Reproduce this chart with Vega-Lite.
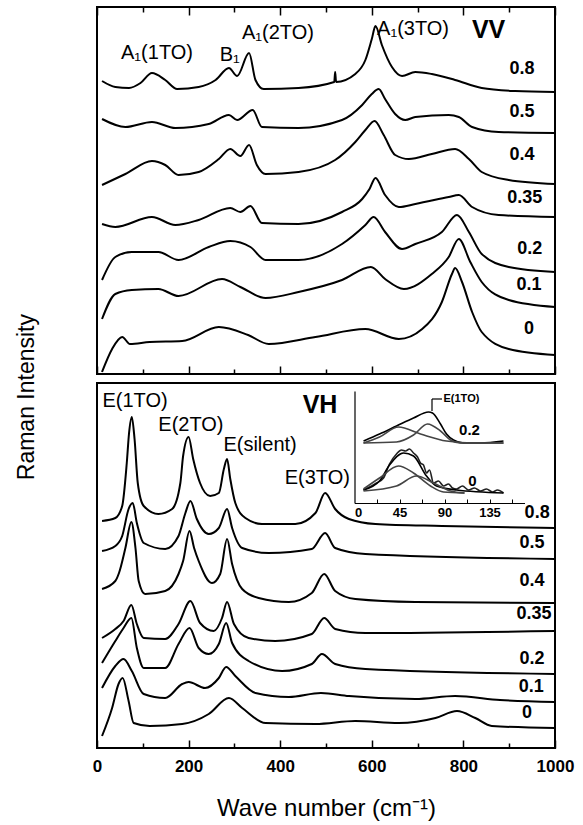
{
  "$schema": "https://vega.github.io/schema/vega-lite/v6.json",
  "padding": {"left": 16, "top": 5, "right": 30, "bottom": 5},
  "config": {
    "font": "Liberation Sans",
    "view": {"stroke": "black", "strokeWidth": 2},
    "axis": {"tickColor": "black", "labelColor": "black", "titleColor": "black", "grid": false, "domainColor": "black"}
  },
  "title": {"text": "Raman Intensity", "orient": "left", "anchor": "middle", "fontSize": 23, "fontWeight": "normal", "offset": 52, "color": "black", "dx": 16},
  "spacing": 5,
  "datasets": {
    "vv": [
      {"s":"0.8","x":11,"y":293},{"s":"0.8","x":40,"y":287},{"s":"0.8","x":70,"y":286},{"s":"0.8","x":95,"y":291},{"s":"0.8","x":120,"y":301},{"s":"0.8","x":149,"y":294},{"s":"0.8","x":175,"y":285},{"s":"0.8","x":222,"y":287},{"s":"0.8","x":259,"y":294},{"s":"0.8","x":288,"y":306},{"s":"0.8","x":306,"y":298},{"s":"0.8","x":332,"y":321},{"s":"0.8","x":346,"y":294},{"s":"0.8","x":364,"y":285},{"s":"0.8","x":440,"y":286},{"s":"0.8","x":518,"y":292},{"s":"0.8","x":520,"y":302},{"s":"0.8","x":522,"y":292},{"s":"0.8","x":564,"y":300},{"s":"0.8","x":586,"y":314},{"s":"0.8","x":600,"y":335},{"s":"0.8","x":608,"y":348},{"s":"0.8","x":622,"y":329},{"s":"0.8","x":644,"y":307},{"s":"0.8","x":666,"y":298},{"s":"0.8","x":695,"y":302},{"s":"0.8","x":731,"y":300},{"s":"0.8","x":782,"y":294},{"s":"0.8","x":840,"y":286},{"s":"0.8","x":913,"y":283},{"s":"0.8","x":1000,"y":282},
      {"s":"0.5","x":11,"y":255},{"s":"0.5","x":62,"y":247},{"s":"0.5","x":120,"y":252},{"s":"0.5","x":171,"y":246},{"s":"0.5","x":244,"y":250},{"s":"0.5","x":288,"y":259},{"s":"0.5","x":306,"y":254},{"s":"0.5","x":340,"y":264},{"s":"0.5","x":360,"y":247},{"s":"0.5","x":440,"y":246},{"s":"0.5","x":535,"y":254},{"s":"0.5","x":579,"y":269},{"s":"0.5","x":600,"y":280},{"s":"0.5","x":615,"y":285},{"s":"0.5","x":629,"y":275},{"s":"0.5","x":651,"y":260},{"s":"0.5","x":673,"y":254},{"s":"0.5","x":695,"y":257},{"s":"0.5","x":768,"y":259},{"s":"0.5","x":790,"y":257},{"s":"0.5","x":819,"y":247},{"s":"0.5","x":877,"y":242},{"s":"0.5","x":1000,"y":241},
      {"s":"0.4","x":11,"y":189},{"s":"0.4","x":62,"y":200},{"s":"0.4","x":120,"y":213},{"s":"0.4","x":149,"y":209},{"s":"0.4","x":178,"y":199},{"s":"0.4","x":222,"y":202},{"s":"0.4","x":266,"y":215},{"s":"0.4","x":291,"y":225},{"s":"0.4","x":313,"y":218},{"s":"0.4","x":332,"y":229},{"s":"0.4","x":349,"y":209},{"s":"0.4","x":368,"y":200},{"s":"0.4","x":440,"y":202},{"s":"0.4","x":520,"y":214},{"s":"0.4","x":564,"y":232},{"s":"0.4","x":586,"y":244},{"s":"0.4","x":606,"y":253},{"s":"0.4","x":626,"y":239},{"s":"0.4","x":651,"y":219},{"s":"0.4","x":681,"y":215},{"s":"0.4","x":731,"y":220},{"s":"0.4","x":782,"y":225},{"s":"0.4","x":812,"y":215},{"s":"0.4","x":840,"y":202},{"s":"0.4","x":899,"y":194},{"s":"0.4","x":1000,"y":190},
      {"s":"0.35","x":11,"y":150},{"s":"0.35","x":40,"y":147},{"s":"0.35","x":120,"y":157},{"s":"0.35","x":171,"y":149},{"s":"0.35","x":222,"y":154},{"s":"0.35","x":291,"y":166},{"s":"0.35","x":313,"y":162},{"s":"0.35","x":335,"y":168},{"s":"0.35","x":360,"y":151},{"s":"0.35","x":440,"y":150},{"s":"0.35","x":535,"y":162},{"s":"0.35","x":579,"y":175},{"s":"0.35","x":595,"y":185},{"s":"0.35","x":608,"y":196},{"s":"0.35","x":629,"y":179},{"s":"0.35","x":659,"y":167},{"s":"0.35","x":695,"y":170},{"s":"0.35","x":768,"y":177},{"s":"0.35","x":790,"y":179},{"s":"0.35","x":819,"y":167},{"s":"0.35","x":877,"y":159},{"s":"0.35","x":1000,"y":157},
      {"s":"0.2","x":11,"y":94},{"s":"0.2","x":40,"y":117},{"s":"0.2","x":76,"y":122},{"s":"0.2","x":134,"y":122},{"s":"0.2","x":178,"y":114},{"s":"0.2","x":244,"y":127},{"s":"0.2","x":291,"y":133},{"s":"0.2","x":335,"y":127},{"s":"0.2","x":368,"y":114},{"s":"0.2","x":440,"y":114},{"s":"0.2","x":535,"y":130},{"s":"0.2","x":586,"y":149},{"s":"0.2","x":604,"y":157},{"s":"0.2","x":629,"y":142},{"s":"0.2","x":666,"y":125},{"s":"0.2","x":695,"y":130},{"s":"0.2","x":753,"y":142},{"s":"0.2","x":786,"y":159},{"s":"0.2","x":812,"y":142},{"s":"0.2","x":840,"y":120},{"s":"0.2","x":899,"y":107},{"s":"0.2","x":1000,"y":102},
      {"s":"0.1","x":11,"y":55},{"s":"0.1","x":40,"y":80},{"s":"0.1","x":76,"y":84},{"s":"0.1","x":134,"y":85},{"s":"0.1","x":178,"y":78},{"s":"0.1","x":273,"y":95},{"s":"0.1","x":313,"y":87},{"s":"0.1","x":368,"y":76},{"s":"0.1","x":440,"y":82},{"s":"0.1","x":535,"y":94},{"s":"0.1","x":598,"y":107},{"s":"0.1","x":629,"y":95},{"s":"0.1","x":670,"y":85},{"s":"0.1","x":731,"y":100},{"s":"0.1","x":768,"y":117},{"s":"0.1","x":790,"y":135},{"s":"0.1","x":815,"y":112},{"s":"0.1","x":840,"y":92},{"s":"0.1","x":899,"y":74},{"s":"0.1","x":1000,"y":67},
      {"s":"0","x":11,"y":2},{"s":"0","x":33,"y":25},{"s":"0","x":55,"y":37},{"s":"0","x":72,"y":30},{"s":"0","x":115,"y":32},{"s":"0","x":186,"y":33},{"s":"0","x":266,"y":47},{"s":"0","x":330,"y":39},{"s":"0","x":375,"y":30},{"s":"0","x":477,"y":37},{"s":"0","x":586,"y":45},{"s":"0","x":659,"y":35},{"s":"0","x":710,"y":45},{"s":"0","x":753,"y":72},{"s":"0","x":775,"y":100},{"s":"0","x":782,"y":106},{"s":"0","x":797,"y":92},{"s":"0","x":819,"y":62},{"s":"0","x":840,"y":42},{"s":"0","x":899,"y":25},{"s":"0","x":1000,"y":19}
    ],
    "vvtext": [
      {"t":"0.8","x":928,"y":305,"k":"lab"},{"t":"0.5","x":928,"y":262,"k":"lab"},{"t":"0.4","x":928,"y":219,"k":"lab"},{"t":"0.35","x":934,"y":176,"k":"lab"},{"t":"0.2","x":945,"y":125,"k":"lab"},{"t":"0.1","x":943,"y":89,"k":"lab"},{"t":"0","x":943,"y":45,"k":"lab"},
      {"t":"A₁(1TO)","x":131,"y":321,"k":"ann"},{"t":"B₁","x":290,"y":319,"k":"ann"},{"t":"A₁(2TO)","x":395,"y":341,"k":"ann"},{"t":"A₁(3TO)","x":690,"y":345,"k":"ann"},
      {"t":"VV","x":855,"y":344,"k":"big"}
    ],
    "vh": [
      {"s":"0.8","x":11,"y":227},{"s":"0.8","x":40,"y":230},{"s":"0.8","x":55,"y":242},{"s":"0.8","x":65,"y":285},{"s":"0.8","x":70,"y":315},{"s":"0.8","x":76,"y":331},{"s":"0.8","x":82,"y":309},{"s":"0.8","x":89,"y":265},{"s":"0.8","x":102,"y":242},{"s":"0.8","x":134,"y":234},{"s":"0.8","x":164,"y":239},{"s":"0.8","x":182,"y":265},{"s":"0.8","x":188,"y":292},{"s":"0.8","x":200,"y":311},{"s":"0.8","x":210,"y":289},{"s":"0.8","x":225,"y":265},{"s":"0.8","x":247,"y":252},{"s":"0.8","x":266,"y":255},{"s":"0.8","x":277,"y":279},{"s":"0.8","x":284,"y":289},{"s":"0.8","x":291,"y":269},{"s":"0.8","x":302,"y":245},{"s":"0.8","x":324,"y":230},{"s":"0.8","x":360,"y":224},{"s":"0.8","x":433,"y":224},{"s":"0.8","x":477,"y":235},{"s":"0.8","x":498,"y":255},{"s":"0.8","x":520,"y":239},{"s":"0.8","x":550,"y":229},{"s":"0.8","x":608,"y":224},{"s":"0.8","x":753,"y":222},{"s":"0.8","x":1000,"y":220},
      {"s":"0.5","x":11,"y":197},{"s":"0.5","x":40,"y":202},{"s":"0.5","x":55,"y":212},{"s":"0.5","x":69,"y":239},{"s":"0.5","x":78,"y":245},{"s":"0.5","x":87,"y":225},{"s":"0.5","x":102,"y":205},{"s":"0.5","x":149,"y":199},{"s":"0.5","x":178,"y":212},{"s":"0.5","x":193,"y":235},{"s":"0.5","x":204,"y":247},{"s":"0.5","x":218,"y":229},{"s":"0.5","x":244,"y":214},{"s":"0.5","x":266,"y":220},{"s":"0.5","x":284,"y":239},{"s":"0.5","x":295,"y":220},{"s":"0.5","x":317,"y":200},{"s":"0.5","x":375,"y":195},{"s":"0.5","x":469,"y":199},{"s":"0.5","x":498,"y":215},{"s":"0.5","x":520,"y":200},{"s":"0.5","x":586,"y":194},{"s":"0.5","x":1000,"y":189},
      {"s":"0.4","x":11,"y":159},{"s":"0.4","x":40,"y":167},{"s":"0.4","x":48,"y":175},{"s":"0.4","x":62,"y":200},{"s":"0.4","x":75,"y":226},{"s":"0.4","x":84,"y":200},{"s":"0.4","x":91,"y":167},{"s":"0.4","x":105,"y":154},{"s":"0.4","x":149,"y":157},{"s":"0.4","x":178,"y":174},{"s":"0.4","x":188,"y":187},{"s":"0.4","x":202,"y":217},{"s":"0.4","x":212,"y":200},{"s":"0.4","x":222,"y":187},{"s":"0.4","x":251,"y":165},{"s":"0.4","x":269,"y":174},{"s":"0.4","x":284,"y":209},{"s":"0.4","x":295,"y":184},{"s":"0.4","x":317,"y":159},{"s":"0.4","x":353,"y":150},{"s":"0.4","x":419,"y":146},{"s":"0.4","x":469,"y":155},{"s":"0.4","x":496,"y":174},{"s":"0.4","x":520,"y":157},{"s":"0.4","x":564,"y":149},{"s":"0.4","x":695,"y":146},{"s":"0.4","x":1000,"y":145},
      {"s":"0.35","x":11,"y":110},{"s":"0.35","x":40,"y":119},{"s":"0.35","x":58,"y":127},{"s":"0.35","x":75,"y":143},{"s":"0.35","x":87,"y":124},{"s":"0.35","x":102,"y":110},{"s":"0.35","x":149,"y":109},{"s":"0.35","x":178,"y":124},{"s":"0.35","x":204,"y":147},{"s":"0.35","x":225,"y":125},{"s":"0.35","x":255,"y":117},{"s":"0.35","x":273,"y":130},{"s":"0.35","x":284,"y":146},{"s":"0.35","x":299,"y":124},{"s":"0.35","x":331,"y":110},{"s":"0.35","x":389,"y":107},{"s":"0.35","x":469,"y":114},{"s":"0.35","x":496,"y":130},{"s":"0.35","x":520,"y":119},{"s":"0.35","x":586,"y":115},{"s":"0.35","x":1000,"y":117},
      {"s":"0.2","x":11,"y":85},{"s":"0.2","x":40,"y":107},{"s":"0.2","x":58,"y":120},{"s":"0.2","x":75,"y":130},{"s":"0.2","x":87,"y":100},{"s":"0.2","x":102,"y":80},{"s":"0.2","x":149,"y":80},{"s":"0.2","x":178,"y":104},{"s":"0.2","x":202,"y":120},{"s":"0.2","x":222,"y":100},{"s":"0.2","x":244,"y":94},{"s":"0.2","x":266,"y":104},{"s":"0.2","x":282,"y":125},{"s":"0.2","x":295,"y":105},{"s":"0.2","x":331,"y":87},{"s":"0.2","x":404,"y":77},{"s":"0.2","x":469,"y":84},{"s":"0.2","x":491,"y":94},{"s":"0.2","x":520,"y":84},{"s":"0.2","x":586,"y":79},{"s":"0.2","x":1000,"y":74},
      {"s":"0.1","x":11,"y":60},{"s":"0.1","x":40,"y":82},{"s":"0.1","x":58,"y":89},{"s":"0.1","x":76,"y":77},{"s":"0.1","x":102,"y":54},{"s":"0.1","x":149,"y":50},{"s":"0.1","x":186,"y":64},{"s":"0.1","x":200,"y":66},{"s":"0.1","x":236,"y":60},{"s":"0.1","x":266,"y":70},{"s":"0.1","x":282,"y":81},{"s":"0.1","x":302,"y":72},{"s":"0.1","x":346,"y":55},{"s":"0.1","x":419,"y":51},{"s":"0.1","x":489,"y":55},{"s":"0.1","x":550,"y":52},{"s":"0.1","x":695,"y":49},{"s":"0.1","x":782,"y":52},{"s":"0.1","x":880,"y":48},{"s":"0.1","x":1000,"y":46},
      {"s":"0","x":11,"y":12},{"s":"0","x":33,"y":40},{"s":"0","x":47,"y":64},{"s":"0","x":56,"y":70},{"s":"0","x":69,"y":47},{"s":"0","x":80,"y":25},{"s":"0","x":115,"y":22},{"s":"0","x":186,"y":24},{"s":"0","x":244,"y":34},{"s":"0","x":288,"y":50},{"s":"0","x":317,"y":40},{"s":"0","x":368,"y":25},{"s":"0","x":477,"y":24},{"s":"0","x":564,"y":27},{"s":"0","x":659,"y":25},{"s":"0","x":739,"y":30},{"s":"0","x":786,"y":37},{"s":"0","x":826,"y":30},{"s":"0","x":862,"y":22},{"s":"0","x":1000,"y":20}
    ],
    "vhtext": [
      {"t":"0.8","x":961,"y":235,"k":"lab"},{"t":"0.5","x":950,"y":205,"k":"lab"},{"t":"0.4","x":950,"y":167,"k":"lab"},{"t":"0.35","x":954,"y":134,"k":"lab"},{"t":"0.2","x":950,"y":89,"k":"lab"},{"t":"0.1","x":948,"y":61,"k":"lab"},{"t":"0","x":939,"y":35,"k":"lab"},
      {"t":"E(1TO)","x":83,"y":347,"k":"ann"},{"t":"E(2TO)","x":205,"y":323,"k":"ann"},{"t":"E(silent)","x":356,"y":303,"k":"ann"},{"t":"E(3TO)","x":481,"y":270,"k":"ann"},
      {"t":"VH","x":487,"y":343,"k":"big"}
    ],
    "inset": [
      {"s":"d02","x":9,"y":62},{"s":"d02","x":25,"y":69},{"s":"d02","x":42,"y":77},{"s":"d02","x":59,"y":85},{"s":"d02","x":74,"y":91},{"s":"d02","x":78,"y":90},{"s":"d02","x":86,"y":79},{"s":"d02","x":92,"y":69},{"s":"d02","x":99,"y":63},{"s":"d02","x":109,"y":60},{"s":"d02","x":126,"y":60},{"s":"d02","x":149,"y":62},
      {"s":"c02a","x":9,"y":60},{"s":"c02a","x":25,"y":66},{"s":"c02a","x":44,"y":76},{"s":"c02a","x":66,"y":69},{"s":"c02a","x":92,"y":62},{"s":"c02a","x":119,"y":60},{"s":"c02a","x":149,"y":60},
      {"s":"c02b","x":9,"y":60},{"s":"c02b","x":42,"y":61},{"s":"c02b","x":59,"y":68},{"s":"c02b","x":73,"y":79},{"s":"c02b","x":86,"y":72},{"s":"c02b","x":96,"y":63},{"s":"c02b","x":106,"y":60},{"s":"c02b","x":149,"y":60},
      {"s":"d0","x":9,"y":13},{"s":"d0","x":22,"y":20},{"s":"d0","x":29,"y":25},{"s":"d0","x":35,"y":39},{"s":"d0","x":42,"y":49},{"s":"d0","x":47,"y":53},{"s":"d0","x":51,"y":52},{"s":"d0","x":55,"y":54},{"s":"d0","x":59,"y":50},{"s":"d0","x":63,"y":46},{"s":"d0","x":66,"y":40},{"s":"d0","x":69,"y":38},{"s":"d0","x":72,"y":30},{"s":"d0","x":75,"y":33},{"s":"d0","x":79,"y":20},{"s":"d0","x":84,"y":22},{"s":"d0","x":89,"y":17},{"s":"d0","x":94,"y":19},{"s":"d0","x":98,"y":15},{"s":"d0","x":102,"y":14},{"s":"d0","x":108,"y":17},{"s":"d0","x":114,"y":13},{"s":"d0","x":120,"y":15},{"s":"d0","x":126,"y":12},{"s":"d0","x":132,"y":14},{"s":"d0","x":138,"y":11},{"s":"d0","x":143,"y":13},{"s":"d0","x":149,"y":10},
      {"s":"f0","x":9,"y":13},{"s":"f0","x":25,"y":22},{"s":"f0","x":35,"y":38},{"s":"f0","x":49,"y":50},{"s":"f0","x":59,"y":47},{"s":"f0","x":72,"y":27},{"s":"f0","x":82,"y":17},{"s":"f0","x":102,"y":13},{"s":"f0","x":149,"y":10},
      {"s":"c0a","x":9,"y":14},{"s":"c0a","x":25,"y":25},{"s":"c0a","x":44,"y":37},{"s":"c0a","x":59,"y":30},{"s":"c0a","x":76,"y":17},{"s":"c0a","x":89,"y":11},{"s":"c0a","x":110,"y":10},
      {"s":"c0b","x":9,"y":12},{"s":"c0b","x":42,"y":17},{"s":"c0b","x":62,"y":27},{"s":"c0b","x":79,"y":20},{"s":"c0b","x":96,"y":12},{"s":"c0b","x":110,"y":10}
    ],
    "insettext": [
      {"t":"E(1TO)","x":89,"y":104,"k":"small"},
      {"t":"0.2","x":115,"y":73,"k":"lab"},
      {"t":"0","x":118,"y":22,"k":"lab"}
    ],
    "insetlead": [
      {"x":77.5,"y":92,"x2":77.5,"y2":104},
      {"x":77.5,"y":104,"x2":87.5,"y2":104}
    ]
  },
  "vconcat": [
    {
      "width": 458, "height": 367,
      "resolve": {"scale": {"x": "independent"}},
      "layer": [
        {
          "data": {"name": "vv"},
          "mark": {"type": "line", "color": "black", "strokeWidth": 2, "interpolate": "monotone"},
          "encoding": {
            "x": {"field": "x", "type": "quantitative", "scale": {"domain": [0, 1000], "nice": false},
                  "axis": {"orient": "bottom", "offset": -8, "values": [0,200,400,600,800,1000], "labels": false, "domain": false, "tickWidth": 1.5, "tickSize": 8, "title": null}},
            "y": {"field": "y", "type": "quantitative", "scale": {"domain": [0, 367], "nice": false}, "axis": null},
            "detail": {"field": "s"}
          }
        },
        {
          "data": {"name": "vvtext"},
          "transform": [{"filter": "datum.k === 'lab'"}],
          "mark": {"type": "text", "fontSize": 18, "fontWeight": "bold", "align": "center", "baseline": "middle", "color": "black"},
          "encoding": {
            "x": {"field": "x", "type": "quantitative", "scale": {"domain": [0, 1000], "nice": false},
                  "axis": {"orient": "bottom", "offset": -5, "values": [100,300,500,700,900], "labels": false, "domain": false, "tickWidth": 1.5, "tickSize": 5, "title": null}},
            "y": {"field": "y", "type": "quantitative", "scale": {"domain": [0, 367], "nice": false}, "axis": null},
            "text": {"field": "t"}
          }
        },
        {
          "data": {"name": "vvtext"},
          "transform": [{"filter": "datum.k === 'ann'"}],
          "mark": {"type": "text", "fontSize": 20, "align": "center", "baseline": "middle", "color": "black"},
          "encoding": {
            "x": {"field": "x", "type": "quantitative", "scale": {"domain": [0, 1000], "nice": false},
                  "axis": {"orient": "top", "offset": -8, "values": [0,200,400,600,800,1000], "labels": false, "domain": false, "tickWidth": 1.5, "tickSize": 8, "title": null}},
            "y": {"field": "y", "type": "quantitative", "scale": {"domain": [0, 367], "nice": false}, "axis": null},
            "text": {"field": "t"}
          }
        },
        {
          "data": {"name": "vvtext"},
          "transform": [{"filter": "datum.k === 'big'"}],
          "mark": {"type": "text", "fontSize": 25, "fontWeight": "bold", "align": "center", "baseline": "middle", "color": "black"},
          "encoding": {
            "x": {"field": "x", "type": "quantitative", "scale": {"domain": [0, 1000], "nice": false},
                  "axis": {"orient": "top", "offset": -5, "values": [100,300,500,700,900], "labels": false, "domain": false, "tickWidth": 1.5, "tickSize": 5, "title": null}},
            "y": {"field": "y", "type": "quantitative", "scale": {"domain": [0, 367], "nice": false}, "axis": null},
            "text": {"field": "t"}
          }
        }
      ]
    },
    {
      "width": 458, "height": 365,
      "resolve": {"scale": {"x": "independent", "y": "independent"}},
      "layer": [
        {
          "resolve": {"scale": {"x": "independent"}},
          "layer": [
            {
              "data": {"name": "vh"},
              "mark": {"type": "line", "color": "black", "strokeWidth": 2, "interpolate": "monotone"},
              "encoding": {
                "x": {"field": "x", "type": "quantitative", "scale": {"domain": [0, 1000], "nice": false},
                      "axis": {"orient": "bottom", "offset": -8, "values": [0,200,400,600,800,1000], "format": "d", "domain": false, "tickWidth": 1.5, "tickSize": 8,
                               "labelOverlap": false, "labelFontSize": 17, "labelFontWeight": "bold", "labelPadding": 10, "labelFlush": false,
                               "title": "Wave number (cm⁻¹)", "titleFontSize": 24, "titleFontWeight": "normal", "titlePadding": 22}},
                "y": {"field": "y", "type": "quantitative", "scale": {"domain": [0, 365], "nice": false}, "axis": null},
                "detail": {"field": "s"}
              }
            },
            {
              "data": {"name": "vhtext"},
              "transform": [{"filter": "datum.k === 'lab'"}],
              "mark": {"type": "text", "fontSize": 18, "fontWeight": "bold", "align": "center", "baseline": "middle", "color": "black"},
              "encoding": {
                "x": {"field": "x", "type": "quantitative", "scale": {"domain": [0, 1000], "nice": false},
                      "axis": {"orient": "bottom", "offset": -5, "values": [100,300,500,700,900], "labels": false, "domain": false, "tickWidth": 1.5, "tickSize": 5, "title": null}},
                "y": {"field": "y", "type": "quantitative", "scale": {"domain": [0, 365], "nice": false}, "axis": null},
                "text": {"field": "t"}
              }
            },
            {
              "data": {"name": "vhtext"},
              "transform": [{"filter": "datum.k === 'ann'"}],
              "mark": {"type": "text", "fontSize": 20, "align": "center", "baseline": "middle", "color": "black"},
              "encoding": {
                "x": {"field": "x", "type": "quantitative", "scale": {"domain": [0, 1000], "nice": false}, "axis": null},
                "y": {"field": "y", "type": "quantitative", "scale": {"domain": [0, 365], "nice": false}, "axis": null},
                "text": {"field": "t"}
              }
            },
            {
              "data": {"name": "vhtext"},
              "transform": [{"filter": "datum.k === 'big'"}],
              "mark": {"type": "text", "fontSize": 25, "fontWeight": "bold", "align": "center", "baseline": "middle", "color": "black"},
              "encoding": {
                "x": {"field": "x", "type": "quantitative", "scale": {"domain": [0, 1000], "nice": false}, "axis": null},
                "y": {"field": "y", "type": "quantitative", "scale": {"domain": [0, 365], "nice": false}, "axis": null},
                "text": {"field": "t"}
              }
            }
          ]
        },
        {
          "resolve": {"scale": {"x": "independent"}},
          "layer": [
            {
              "data": {"name": "inset"},
              "mark": {"type": "line", "interpolate": "monotone"},
              "encoding": {
                "x": {"field": "x", "type": "quantitative", "scale": {"domain": [0, 170], "range": [257.5, 427.5], "nice": false},
                      "axis": {"orient": "bottom", "offset": -245, "values": [0,45,90,135], "domainColor": "black", "domainWidth": 1.2,
                               "ticks": false, "labelOverlap": false, "labelFontSize": 13, "labelFontWeight": "bold", "labelPadding": 3, "title": null}},
                "y": {"field": "y", "type": "quantitative", "scale": {"domain": [0, 112], "range": [120, 8], "nice": false},
                      "axis": {"orient": "left", "offset": -257.5, "ticks": false, "labels": false, "domainColor": "black", "domainWidth": 1.2, "title": null}},
                "detail": {"field": "s"},
                "strokeWidth": {"field": "s", "type": "nominal", "scale": {"domain": ["d02","f0","d0","c02a","c02b","c0a","c0b"], "range": [1.6,1.6,0.9,0.9,0.9,0.9,0.9]}, "legend": null},
                "color": {"field": "s", "type": "nominal", "scale": {"domain": ["d02","f0","d0","c02a","c02b","c0a","c0b"], "range": ["#000000","#000000","#222222","#444444","#444444","#444444","#444444"]}, "legend": null}
              }
            },
            {
              "data": {"name": "insetlead"},
              "mark": {"type": "rule", "color": "black", "strokeWidth": 1.2},
              "encoding": {
                "x": {"field": "x", "type": "quantitative", "scale": {"domain": [0, 170], "range": [257.5, 427.5], "nice": false},
                      "axis": {"orient": "bottom", "offset": -249, "values": [22.5,45,67.5,90,112.5,135,157.5], "domain": false, "labels": false, "tickSize": 4, "tickWidth": 1, "title": null}},
                "x2": {"field": "x2"},
                "y": {"field": "y", "type": "quantitative"},
                "y2": {"field": "y2"}
              }
            },
            {
              "data": {"name": "insettext"},
              "transform": [{"filter": "datum.k === 'small'"}],
              "mark": {"type": "text", "fontSize": 11, "fontWeight": "bold", "align": "left", "baseline": "middle", "color": "black"},
              "encoding": {
                "x": {"field": "x", "type": "quantitative", "scale": {"domain": [0, 170], "range": [257.5, 427.5], "nice": false}, "axis": null},
                "y": {"field": "y", "type": "quantitative"},
                "text": {"field": "t"}
              }
            },
            {
              "data": {"name": "insettext"},
              "transform": [{"filter": "datum.k === 'lab'"}],
              "mark": {"type": "text", "fontSize": 15, "fontWeight": "bold", "align": "center", "baseline": "middle", "color": "black"},
              "encoding": {
                "x": {"field": "x", "type": "quantitative", "scale": {"domain": [0, 170], "range": [257.5, 427.5], "nice": false}, "axis": null},
                "y": {"field": "y", "type": "quantitative"},
                "text": {"field": "t"}
              }
            }
          ]
        }
      ]
    }
  ]
}
